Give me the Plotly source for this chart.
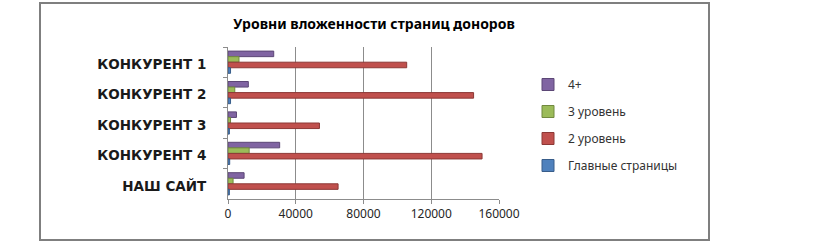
import plotly.graph_objects as go

categories = ["КОНКУРЕНТ 1", "КОНКУРЕНТ 2", "КОНКУРЕНТ 3", "КОНКУРЕНТ 4", "НАШ САЙТ"]
series_names = ["4+", "3 уровень", "2 уровень", "Главные страницы"]
lvl4 = [27000, 12000, 5000, 30500, 9500]
lvl3 = [6500, 4000, 1500, 12500, 3000]
lvl2 = [105500, 145000, 54000, 150000, 65000]
main_pages = [1500, 1500, 800, 1000, 800]
x_ticks = [0, 40000, 80000, 120000, 160000]

series_values = [lvl4, lvl3, lvl2, main_pages]
colors = ["#8064A2", "#9BBB59", "#C0504D", "#4F81BD"]
edges = ["#5C4776", "#71893F", "#8C3836", "#385D8A"]

W, H = 825, 244
fig = go.Figure()
for i, (name, vals) in enumerate(zip(series_names, series_values)):
    fig.add_trace(go.Bar(
        y=categories, x=vals, name=name, orientation="h",
        marker=dict(color=colors[i], line=dict(color=edges[i], width=1)),
        legendgroup=name,
    ))

fig.update_layout(
    width=W, height=H,
    margin=dict(l=0, r=0, t=0, b=0),
    paper_bgcolor="white", plot_bgcolor="white",
    barmode="group", bargap=0.27, bargroupgap=0,
    title=dict(text="<b>Уровни вложенности страниц доноров</b>",
               x=374 / W, xref="container", xanchor="center",
               y=1 - 24 / H, yref="container", yanchor="middle",
               font=dict(family="Noto Sans", size=14, color="#000000")),
    xaxis=dict(domain=[228 / W, 499 / W], range=[0, 160000],
               tickvals=x_ticks, ticktext=[str(v) for v in x_ticks],
               showgrid=True, gridcolor="#8C8C8C", gridwidth=1,
               showline=True, linecolor="#8C8C8C", linewidth=1,
               ticks="outside", ticklen=4, tickcolor="#8C8C8C",
               tickfont=dict(family="Noto Sans", size=12, color="#262626"),
               zeroline=False, automargin=False, fixedrange=True),
    yaxis=dict(domain=[1 - 199 / H, 1 - 47 / H], autorange="reversed",
               type="category", showgrid=False,
               showline=True, linecolor="#8C8C8C", linewidth=1,
               ticks="outside", ticklen=4, tickcolor="#8C8C8C",
               tickson="boundaries", ticklabelstandoff=18,
               ticklabelshift=-2,
               tickfont=dict(family="DejaVu Sans", size=13.5, color="#1a1a1a", weight="bold"),
               automargin=False, fixedrange=True),
    legend=dict(x=528 / W, y=1 - 70 / H, xanchor="left", yanchor="top",
                traceorder="grouped", tracegroupgap=8,
                font=dict(family="Noto Sans", size=12, color="#333333"),
                itemwidth=30, bgcolor="rgba(0,0,0,0)"),
    showlegend=True,
)

fig.add_shape(type="rect", xref="paper", yref="paper",
              x0=40 / W, x1=709 / W, y0=1 - 240 / H, y1=1 - 3 / H,
              line=dict(color="#7F7F7F", width=2), fillcolor="rgba(0,0,0,0)",
              layer="below")

fig.write_html("out.html")
